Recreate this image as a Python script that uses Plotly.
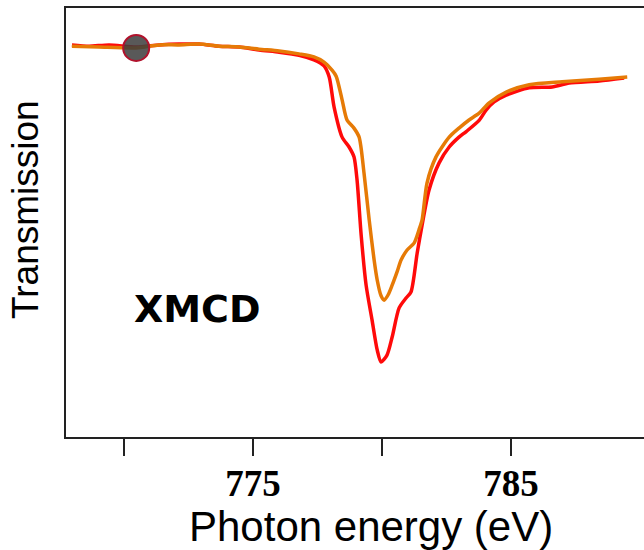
import plotly.graph_objects as go

# Photon energy (eV) and transmission (arb. units)
energy_red = [767.98, 768.64, 769.42, 770.47, 771.36, 772.13, 772.91, 773.68, 774.46, 775.23,
              776.01, 776.78, 777.36, 777.75, 777.95, 778.14, 778.45, 778.72, 778.91, 779.03,
              779.19, 779.38, 779.61, 779.81, 779.96, 780.19, 780.39, 780.66, 780.93, 781.12,
              781.36, 781.55, 781.82, 782.21, 782.60, 782.98, 783.26, 783.76, 784.03, 784.34,
              784.81, 785.70, 786.59, 787.25, 788.41, 789.38]
trans_red = [0.914, 0.911, 0.914, 0.909, 0.914, 0.916, 0.916, 0.911, 0.909, 0.902,
             0.897, 0.890, 0.879, 0.865, 0.839, 0.769, 0.699, 0.676, 0.653, 0.599,
             0.470, 0.354, 0.273, 0.203, 0.175, 0.191, 0.233, 0.301, 0.324, 0.338,
             0.429, 0.494, 0.576, 0.639, 0.676, 0.699, 0.712, 0.738, 0.762, 0.781,
             0.797, 0.814, 0.816, 0.825, 0.830, 0.837]

energy_orange = [767.98, 769.03, 770.47, 771.36, 772.13, 772.91, 773.68, 774.46, 775.23, 776.01,
                 776.78, 777.36, 777.75, 778.06, 778.22, 778.45, 778.64, 778.91, 779.11, 779.30,
                 779.50, 779.69, 779.81, 779.96, 780.08, 780.23, 780.39, 780.58, 780.74, 780.97,
                 781.24, 781.43, 781.55, 781.74, 782.09, 782.60, 782.98, 783.37, 783.76, 784.15,
                 784.81, 785.70, 786.98, 788.41, 789.50]
trans_orange = [0.911, 0.909, 0.907, 0.914, 0.914, 0.916, 0.911, 0.909, 0.904, 0.900,
                0.893, 0.886, 0.874, 0.855, 0.841, 0.786, 0.739, 0.720, 0.699, 0.615,
                0.506, 0.413, 0.366, 0.329, 0.319, 0.331, 0.354, 0.385, 0.413, 0.436,
                0.452, 0.483, 0.506, 0.592, 0.653, 0.699, 0.720, 0.739, 0.755, 0.779,
                0.804, 0.821, 0.828, 0.834, 0.839]

marker_energy = [770.47]
marker_trans = [0.907]

tick_vals = [770, 775, 780, 785]
tick_text = ["", "775", "", "785"]

fig = go.Figure()
fig.add_trace(go.Scatter(x=energy_red, y=trans_red, mode="lines",
                         line=dict(color="#ff0a0a", width=3.5, shape="spline", smoothing=0.7),
                         showlegend=False))
fig.add_trace(go.Scatter(x=energy_orange, y=trans_orange, mode="lines",
                         line=dict(color="#e67a06", width=3.5, shape="spline", smoothing=0.7),
                         showlegend=False))
fig.add_trace(go.Scatter(x=marker_energy, y=marker_trans, mode="markers",
                         marker=dict(size=26, color="rgba(60,60,60,0.85)",
                                     line=dict(color="#b0122c", width=2)),
                         showlegend=False))

fig.update_layout(
    width=644, height=550,
    margin=dict(l=66, r=0, t=8, b=113),
    paper_bgcolor="white", plot_bgcolor="white",
    xaxis=dict(range=[767.75, 790.15], showgrid=False, zeroline=False,
               showline=True, linecolor="#222", linewidth=2, mirror=True,
               ticks="outside", ticklen=17, tickwidth=2, tickcolor="#222",
               ticklabelstandoff=-4,
               tickvals=tick_vals, ticktext=tick_text,
               tickfont=dict(family="Liberation Serif", size=37, color="black", weight="bold")),
    yaxis=dict(range=[0, 1], showgrid=False, zeroline=False,
               showline=True, linecolor="#222", linewidth=2,
               showticklabels=False, ticks=""),
    annotations=[
        dict(text="Photon energy (eV)", xref="paper", yref="paper",
             x=(371 - 66) / 578, y=(437 - 526) / 429, xanchor="center", yanchor="middle",
             showarrow=False, font=dict(family="Liberation Sans", size=42, color="black")),
        dict(text="Transmission", xref="paper", yref="paper", textangle=-90,
             x=(25 - 66) / 578, y=(437 - 210) / 429, xanchor="center", yanchor="middle",
             showarrow=False, font=dict(family="Liberation Sans", size=37, color="black")),
        dict(text="<b>XMCD</b>", xref="x", yref="y", x=772.83, y=0.298,
             xanchor="center", yanchor="middle", showarrow=False,
             font=dict(family="DejaVu Sans", size=38, color="black")),
    ],
)

fig.write_html("out.html")
